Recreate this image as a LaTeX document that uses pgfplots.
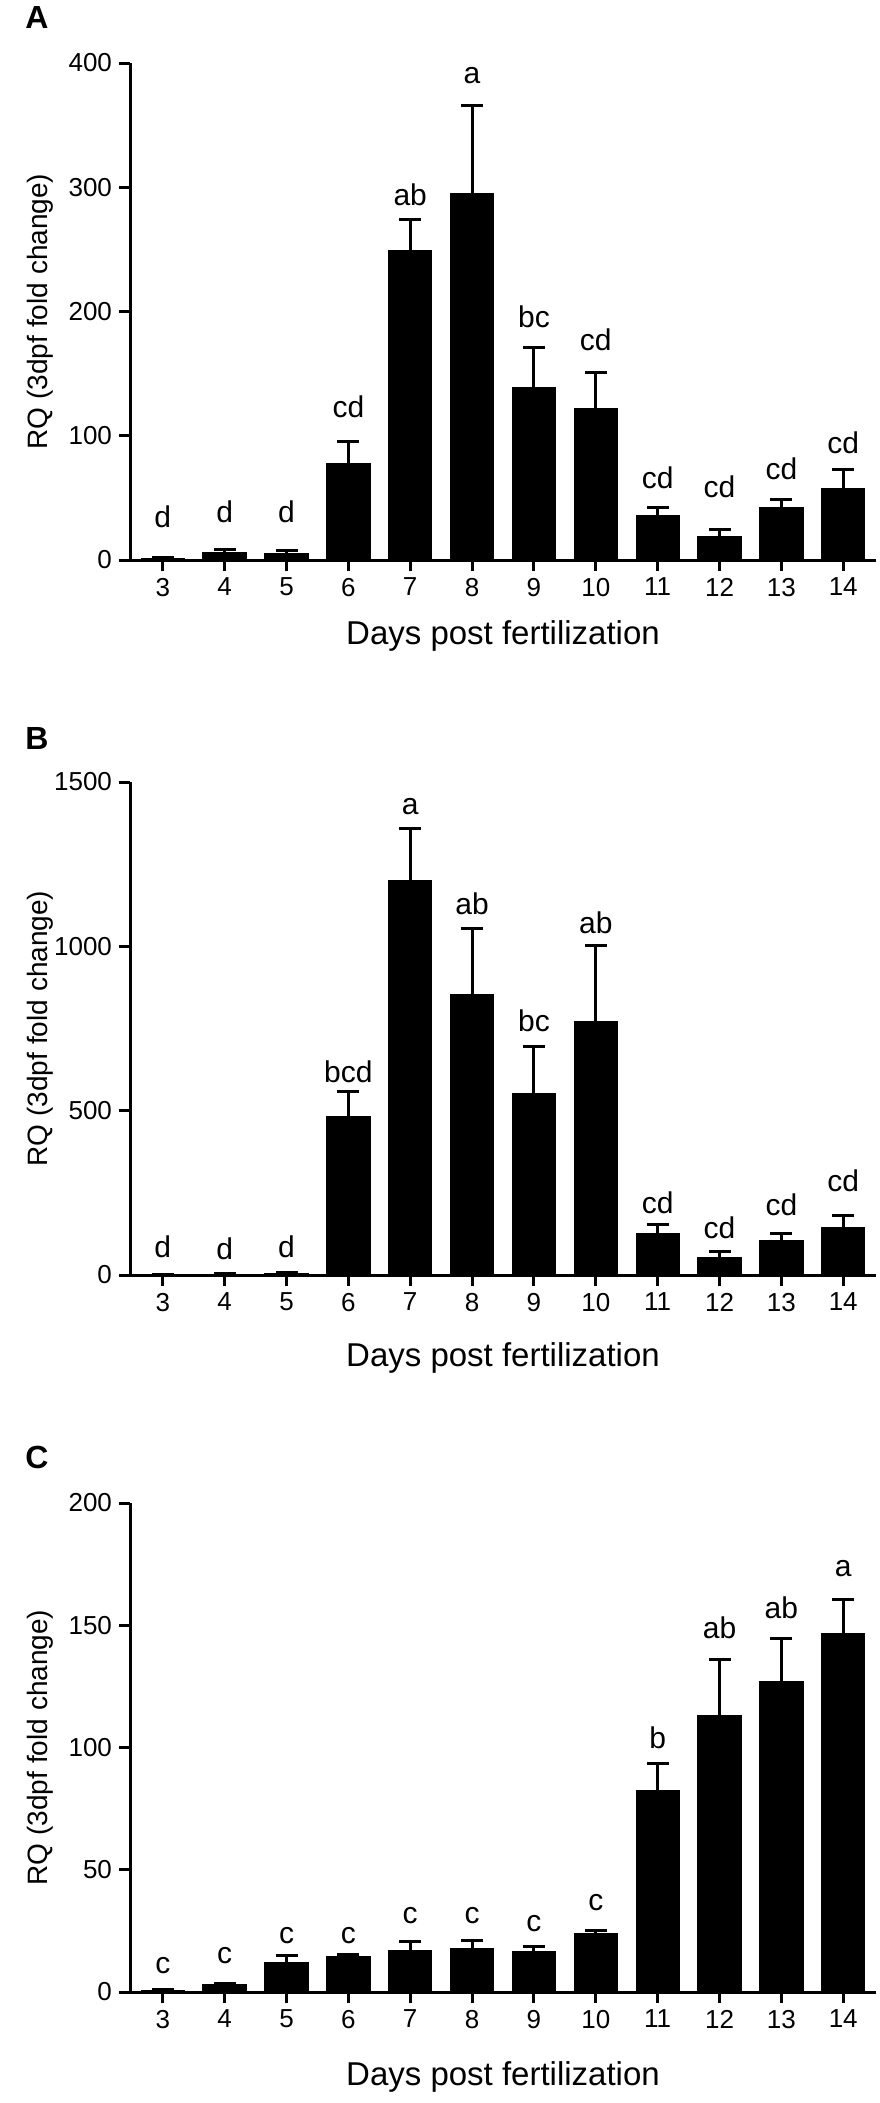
\documentclass[border=0pt]{standalone}
\usepackage{pgfplots}
\pgfplotsset{compat=1.18}
\usepackage{pgfplotstable}
\usepackage{fontspec}
\setmainfont{Liberation Sans}

\pgfplotstableread{
d v e
3 1 0.8
4 6 2.5
5 5.5 1.8
6 78 17.5
7 249 25
8 295 71
9 139 32
10 122 29
11 36 6
12 18.8 6
13 42 7
14 57.5 15
}\dataA
\pgfplotstableread{
d ly lab
3 35 d
4 38.6 d
5 38.6 d
6 123.4 cd
7 294 ab
8 390 a
9 196 bc
10 177.5 cd
11 66.4 cd
12 59 cd
13 73.6 cd
14 94.5 cd
}\labA

\pgfplotstableread{
d v e
3 2 1
4 3 1
5 5 2
6 482 77
7 1199 161
8 852 203
9 551 145
10 770 233
11 126 27
12 52 19
13 105.5 21.5
14 144 37
}\dataB
\pgfplotstableread{
d ly lab
3 85 d
4 79 d
5 85 d
6 619 bcd
7 1425 a
8 1130 ab
9 774 bc
10 1073 ab
11 219 cd
12 144 cd
13 215 cd
14 288 cd
}\labB

\pgfplotstableread{
d v e
3 0.8 0.3
4 3.1 0.5
5 12.2 2.8
6 14.4 1.1
7 16.8 3.7
8 17.6 3.4
9 16.5 2
10 23.8 1.2
11 82.4 11.2
12 113.3 22.9
13 127.2 17.2
14 146.8 13.9
}\dataC
\pgfplotstableread{
d ly lab
3 11 c
4 15 c
5 23.2 c
6 23.2 c
7 31.4 c
8 31.4 c
9 27.8 c
10 36.6 c
11 104 b
12 149 ab
13 157 ab
14 173 a
}\labC

\pgfplotsset{
  panel/.style={
    scale only axis, width=373pt,
    xmin=2.47, xmax=14.53, ymin=0,
    axis x line=bottom, axis y line=left,
    axis line style={line width=1.5pt, black},
    x axis line style={-}, y axis line style={-},
    tick style={line width=1.5pt, black},
    tick align=outside, major tick length=5.5pt,
    xtick={3,...,14},
    /pgf/number format/assume math mode=true,
    /pgf/number format/1000 sep={},
    ticklabel style={font=\fontsize{13}{15}\selectfont},
    xlabel={Days post fertilization},
    ylabel={RQ (3dpf fold change)},
    xlabel style={font=\fontsize{16.5}{19}\selectfont, at={(axis description cs:0.5,0)}, anchor=center},
    ylabel style={font=\fontsize{14}{16}\selectfont, at={(axis description cs:-0.1206,0.5)}, anchor=center},
    clip=false,
  },
  bars/.style={ybar, bar shift=0pt, bar width=0.7, fill=black, draw=black, line width=0pt,
    error bars/.cd, y dir=plus, y explicit, error mark=none,
    error bar style={line width=1.5pt, black}},
  caps/.style={only marks, mark=-, mark size=5.5pt, mark options={line width=1.5pt, black, solid}},
  letters/.style={draw=none, mark=none, nodes near coords, point meta=explicit symbolic,
    nodes near coords align=center,
    every node near coord/.append style={anchor=center, inner sep=0pt, font=\fontsize{15}{17}\selectfont}},
}

\begin{document}
\begin{tikzpicture}
\useasboundingbox (0,0) rectangle (439.5pt,-1051.5pt);

\node[font=\bfseries\fontsize{16}{18}\selectfont] at (18.5pt,-8.5pt) {A};
\begin{axis}[panel, at={(65pt,-280pt)}, anchor=south west, height=248.5pt,
  ymax=400, ytick={0,100,200,300,400}, xlabel style={yshift=-38pt}]
\addplot[bars] table[x=d, y=v, y error=e] {\dataA};
\addplot[caps] table[x=d, y expr=\thisrow{v}+\thisrow{e}] {\dataA};
\addplot[letters] table[x=d, y=ly, meta=lab] {\labA};
\end{axis}

\node[font=\bfseries\fontsize{16}{18}\selectfont] at (18.5pt,-369pt) {B};
\begin{axis}[panel, at={(65pt,-637.5pt)}, anchor=south west, height=246.5pt,
  ymax=1500, ytick={0,500,1000,1500}, xlabel style={yshift=-41.5pt}]
\addplot[bars] table[x=d, y=v, y error=e] {\dataB};
\addplot[caps] table[x=d, y expr=\thisrow{v}+\thisrow{e}] {\dataB};
\addplot[letters] table[x=d, y=ly, meta=lab] {\labB};
\end{axis}

\node[font=\bfseries\fontsize{16}{18}\selectfont] at (18.5pt,-728.5pt) {C};
\begin{axis}[panel, at={(65pt,-996pt)}, anchor=south west, height=244.5pt,
  ymax=200, ytick={0,50,100,150,200}, xlabel style={yshift=-42.5pt}]
\addplot[bars] table[x=d, y=v, y error=e] {\dataC};
\addplot[caps] table[x=d, y expr=\thisrow{v}+\thisrow{e}] {\dataC};
\addplot[letters] table[x=d, y=ly, meta=lab] {\labC};
\end{axis}
\end{tikzpicture}
\end{document}
